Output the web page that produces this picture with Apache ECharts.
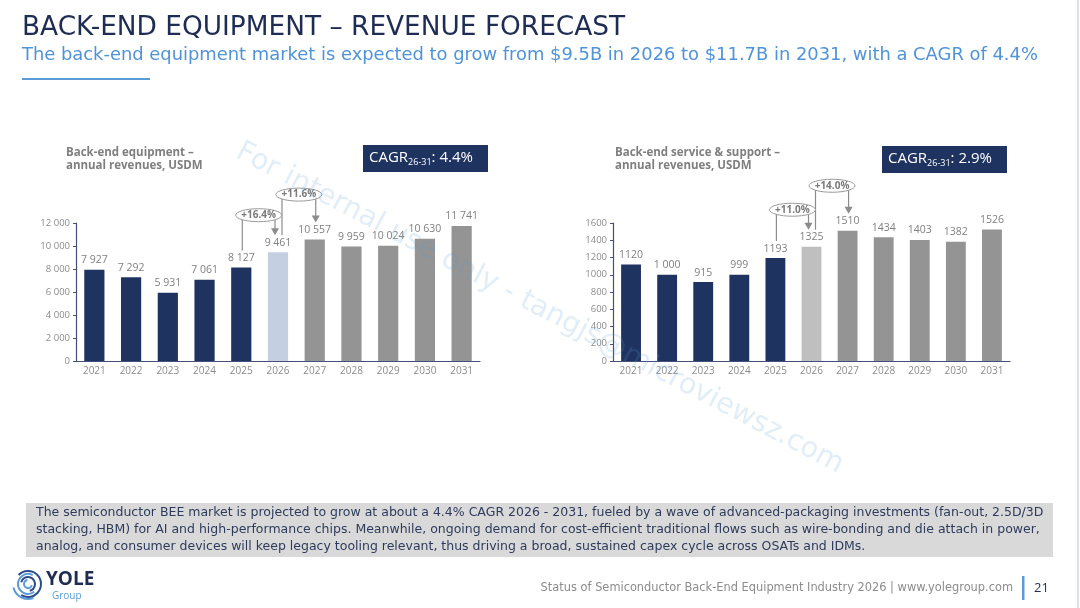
<!DOCTYPE html>
<html>
<head>
<meta charset="utf-8">
<script src="https://cdn.jsdelivr.net/npm/echarts@6/dist/echarts.min.js"></script>
<style>
  html, body { margin: 0; padding: 0; background: #fff; }
  #main { width: 1080px; height: 608px; }
</style>
</head>
<body>
<div id="main"></div>
<script>
// data
var years = ['2021', '2022', '2023', '2024', '2025', '2026', '2027', '2028', '2029', '2030', '2031']
var equipValues = [7927, 7292, 5931, 7061, 8127, 9461, 10557, 9959, 10024, 10630, 11741]
var serviceValues = [1120, 1000, 915, 999, 1193, 1325, 1510, 1434, 1403, 1382, 1526]
var equipGrowthFrom = [4, 5]
var equipGrowthLabels = ['+16.4%', '+11.6%']
var serviceGrowthFrom = [4, 5]
var serviceGrowthLabels = ['+11.0%', '+14.0%']
var equipCagr = '4.4%'
var serviceCagr = '2.9%'

var FONT = '"Open Sans", sans-serif'
var WIDE = '"DejaVu Sans", sans-serif'
var NAVY = '#1f3360'
var GRAY = '#949494'
var LABEL = '#808080'

function spaced (n) {
  return String(n).replace(/\B(?=(\d{3})+(?!\d))/g, ' ')
}

function barColors (estColor) {
  return function (p) {
    if (p.dataIndex < 5) return NAVY
    if (p.dataIndex === 5) return estColor
    return GRAY
  }
}

function xAxisFor (gi) {
  return {
    type: 'category',
    gridIndex: gi,
    data: years,
    axisLine: { lineStyle: { color: '#44507a', width: 1.2 } },
    axisTick: { show: false },
    axisLabel: { color: '#8c8c8c', fontSize: 10, fontFamily: FONT, margin: 5 }
  }
}

function yAxisFor (gi, max, interval, fmt) {
  return {
    type: 'value',
    gridIndex: gi,
    min: 0,
    max: max,
    interval: interval,
    axisLine: { show: true, lineStyle: { color: '#44507a', width: 1.2 } },
    axisTick: { show: true, length: 3, lineStyle: { color: '#44507a' } },
    splitLine: { show: false },
    axisLabel: { color: '#8c8c8c', fontSize: 9.5, fontFamily: FONT, margin: 6, formatter: fmt }
  }
}

var chart = echarts.init(document.getElementById('main'))

chart.setOption({
  animation: false,
  grid: [
    { left: 76, right: 600, top: 223, bottom: 247 },
    { left: 613, right: 70, top: 223, bottom: 247 }
  ],
  xAxis: [xAxisFor(0), xAxisFor(1)],
  yAxis: [
    yAxisFor(0, 12000, 2000, function (v) { return spaced(v) }),
    yAxisFor(1, 1600, 200, function (v) { return String(v) })
  ],
  series: [
    {
      type: 'bar',
      xAxisIndex: 0,
      yAxisIndex: 0,
      data: equipValues,
      barWidth: '55%',
      itemStyle: { color: barColors('#c4cfe2') },
      label: {
        show: true,
        position: 'top',
        distance: 4,
        color: LABEL,
        fontSize: 10.5,
        fontFamily: FONT,
        formatter: function (p) { return spaced(p.value) }
      }
    },
    {
      type: 'bar',
      xAxisIndex: 1,
      yAxisIndex: 1,
      data: serviceValues,
      barWidth: '55%',
      itemStyle: { color: barColors('#bfbfbf') },
      label: {
        show: true,
        position: 'top',
        distance: 4,
        color: LABEL,
        fontSize: 10.5,
        fontFamily: FONT,
        formatter: function (p) { return p.value === 1000 ? '1 000' : String(p.value) }
      }
    }
  ]
})

// static slide elements
var graphic = []

function text (x, y, str, style) {
  graphic.push({
    type: 'text',
    x: x,
    y: y,
    z: 10,
    style: Object.assign({ text: str, fontFamily: FONT, textVerticalAlign: 'middle' }, style)
  })
}

// watermark
graphic.push({
  type: 'text',
  x: 238,
  y: 150,
  rotation: -0.483,
  z: 50,
  style: {
    text: 'For internal use only - tangjs@microviewsz.com',
    fontFamily: WIDE,
    fontSize: 28.5,
    fill: 'rgba(91,155,213,0.18)',
    textVerticalAlign: 'middle'
  }
})

text(22, 28, 'BACK-END EQUIPMENT \u2013 REVENUE FORECAST', { fontSize: 26.4, fill: '#1f2d55', fontFamily: WIDE })
text(22, 55, 'The back-end equipment market is expected to grow from $9.5B in 2026 to $11.7B in 2031, with a CAGR of 4.4%',
  { fontSize: 17.9, fill: '#4f93d8', fontFamily: WIDE })
graphic.push({ type: 'rect', shape: { x: 22, y: 78, width: 128, height: 2 }, style: { fill: '#5b9bd5' } })
graphic.push({ type: 'rect', shape: { x: 1077, y: 0, width: 2, height: 608 }, style: { fill: '#d6e3f0' } })

// chart titles
text(66, 159, 'Back-end equipment \u2013\nannual revenues, USDM',
  { fontSize: 11.5, fontWeight: 'bold', fill: '#7f7f7f', lineHeight: 13 })
text(615, 159, 'Back-end service & support \u2013\nannual revenues, USDM',
  { fontSize: 11.5, fontWeight: 'bold', fill: '#7f7f7f', lineHeight: 13 })

// CAGR boxes
function cagrBox (x, y, val) {
  graphic.push({ type: 'rect', shape: { x: x, y: y, width: 125, height: 27 }, style: { fill: NAVY } })
  graphic.push({
    type: 'text',
    x: x + 6,
    y: y + 13,
    z: 10,
    style: {
      text: '{b|CAGR}{s|26-31}{b|: ' + val + '}',
      textVerticalAlign: 'middle',
      rich: {
        b: { fontSize: 15, fill: '#fff', fontFamily: FONT },
        s: { fontSize: 9, fill: '#fff', fontFamily: FONT, padding: [9, 0, 0, 0] }
      }
    }
  })
}
cagrBox(363, 145, equipCagr)
cagrBox(882, 146, serviceCagr)

// commentary box
graphic.push({ type: 'rect', shape: { x: 26, y: 503, width: 1027, height: 54 }, style: { fill: '#d9d9d9' } })
text(36, 530,
  'The semiconductor BEE market is projected to grow at about a 4.4% CAGR 2026 - 2031, fueled by a wave of advanced-packaging investments (fan-out, 2.5D/3D\n' +
  'stacking, HBM) for AI and high-performance chips. Meanwhile, ongoing demand for cost-efficient traditional flows such as wire-bonding and die attach in power,\n' +
  'analog, and consumer devices will keep legacy tooling relevant, thus driving a broad, sustained capex cycle across OSATs and IDMs.',
  { fontSize: 12.5, fill: '#2e3b5c', lineHeight: 17, fontFamily: WIDE })

// footer
var arcs = [[4, 0.3, 4.6], [7, 3.4, 7.6], [10, 0.9, 5.2], [13, 3.9, 8.4], [15, 1.2, 2.9]]
arcs.forEach(function (a, i) {
  graphic.push({
    type: 'arc',
    shape: { cx: 28, cy: 584, r: a[0], startAngle: a[1], endAngle: a[2] },
    style: { stroke: i % 2 ? '#2b4c8c' : '#5b9bd5', lineWidth: 2, fill: null }
  })
})
text(46, 580, 'YOLE', { fontSize: 19, fontWeight: 'bold', fill: '#1f2d55' })
text(52, 596, 'Group', { fontSize: 10, fill: '#5b9bd5' })
text(1013, 588, 'Status of Semiconductor Back-End Equipment Industry 2026 | www.yolegroup.com',
  { fontSize: 11.4, fill: '#8c8c8c', textAlign: 'right', fontFamily: WIDE })
graphic.push({ type: 'rect', shape: { x: 1022, y: 576, width: 2.5, height: 24 }, style: { fill: '#5b9bd5' } })
text(1034, 588, '21', { fontSize: 13, fill: '#1f2d55' })

// growth brackets, anchored on the bars through the chart's own scales
function brackets (seriesIndex, values, fromIdx, labels) {
  fromIdx.forEach(function (f, k) {
    var a = chart.convertToPixel({ seriesIndex: seriesIndex }, [f, values[f]])
    var b = chart.convertToPixel({ seriesIndex: seriesIndex }, [f + 1, values[f + 1]])
    var x1 = a[0] + (k ? 4 : 1)
    var x2 = b[0] + (k ? 1 : -3)
    var yTop = Math.min(a[1], b[1]) - (k ? 45 : 37)
    var y1 = a[1] - 17
    var y2 = b[1] - 17
    var stroke = { stroke: '#8c8c8c', lineWidth: 1.2 }
    graphic.push({ type: 'polyline', z: 5, shape: { points: [[x1, y1], [x1, yTop], [x2, yTop], [x2, y2 - 6]] }, style: Object.assign({ fill: null }, stroke) })
    graphic.push({ type: 'polygon', z: 5, shape: { points: [[x2 - 4, y2 - 7], [x2 + 4, y2 - 7], [x2, y2]] }, style: { fill: '#8c8c8c' } })
    graphic.push({ type: 'ellipse', z: 6, shape: { cx: (x1 + x2) / 2, cy: yTop, rx: 23, ry: 6.5 }, style: { fill: '#fff', stroke: '#9a9a9a', lineWidth: 1 } })
    graphic.push({
      type: 'text',
      x: (x1 + x2) / 2,
      y: yTop,
      z: 7,
      style: { text: labels[k], fontFamily: FONT, fontSize: 10, fontWeight: 'bold', fill: '#7a7a7a', textAlign: 'center', textVerticalAlign: 'middle' }
    })
  })
}
brackets(0, equipValues, equipGrowthFrom, equipGrowthLabels)
brackets(1, serviceValues, serviceGrowthFrom, serviceGrowthLabels)

chart.setOption({ graphic: graphic })
</script>
</body>
</html>
